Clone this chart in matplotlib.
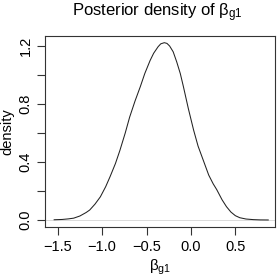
import numpy as np
import matplotlib
matplotlib.use('Agg')
import matplotlib.pyplot as plt

plt.rcParams['font.family'] = ['Liberation Sans', 'DejaVu Sans']
plt.rcParams['mathtext.fontset'] = 'custom'
plt.rcParams['mathtext.rm'] = 'Liberation Sans'
plt.rcParams['mathtext.it'] = 'Liberation Sans'
plt.rcParams['mathtext.bf'] = 'Liberation Sans:bold'

# density curve
beta_x = [-1.54, -1.45, -1.38, -1.32, -1.25, -1.18, -1.14, -1.08, -1.02,
          -0.96, -0.91, -0.85, -0.80, -0.74, -0.69, -0.63, -0.57, -0.52,
          -0.46, -0.42, -0.37, -0.34, -0.30, -0.27, -0.24, -0.20, -0.16,
          -0.12, -0.085, -0.03, 0.03, 0.08, 0.14, 0.20, 0.25, 0.29, 0.35,
          0.40, 0.45, 0.50, 0.55, 0.62, 0.70, 0.78, 0.87]
dens = [0.002, 0.004, 0.008, 0.013, 0.028, 0.052, 0.069, 0.11, 0.16,
        0.23, 0.30, 0.39, 0.48, 0.60, 0.71, 0.82, 0.92, 1.01,
        1.10, 1.15, 1.195, 1.215, 1.223, 1.218, 1.20, 1.16, 1.09,
        1.01, 0.92, 0.77, 0.62, 0.51, 0.41, 0.31, 0.25, 0.21, 0.14,
        0.092, 0.055, 0.030, 0.016, 0.007, 0.003, 0.001, 0.0005]

yticks = [0.0, 0.2, 0.4, 0.6, 0.8, 1.0, 1.2]
ylabels = ['0.0', '', '0.4', '', '0.8', '', '1.2']
xticks = [-1.5, -1.0, -0.5, 0.0, 0.5]
xlabels = ['\u22121.5', '\u22121.0', '\u22120.5', '0.0', '0.5']

fig = plt.figure(figsize=(2.77, 2.77), dpi=100)
ax = fig.add_axes([0.1625, 0.1805, 0.8315, 0.6895])

ax.axhline(0, color='#cccccc', lw=0.5)
ax.plot(beta_x, dens, color='#222222', lw=0.75)

ax.set_xlim(-1.643, 0.950)
ax.set_ylim(-0.048, 1.269)
ax.set_xticks(xticks)
ax.set_xticklabels(xlabels)
ax.set_yticks(yticks)
ax.set_yticklabels(ylabels, rotation=90, va='center')
ax.tick_params(direction='out', length=6, width=0.8, labelsize=10.5, pad=3,
               color='#333333')
for s in ax.spines.values():
    s.set_color('#333333')
    s.set_linewidth(0.8)

ax.set_xlabel(r'$\beta_{g1}$', fontsize=11, labelpad=3)
ax.set_ylabel('density', fontsize=10.5, labelpad=3)
fig.text(0.57, 0.955, r'Posterior density of $\beta_{g1}$', ha='center',
         va='center', fontsize=12)

fig.savefig('out.png', dpi=100)
